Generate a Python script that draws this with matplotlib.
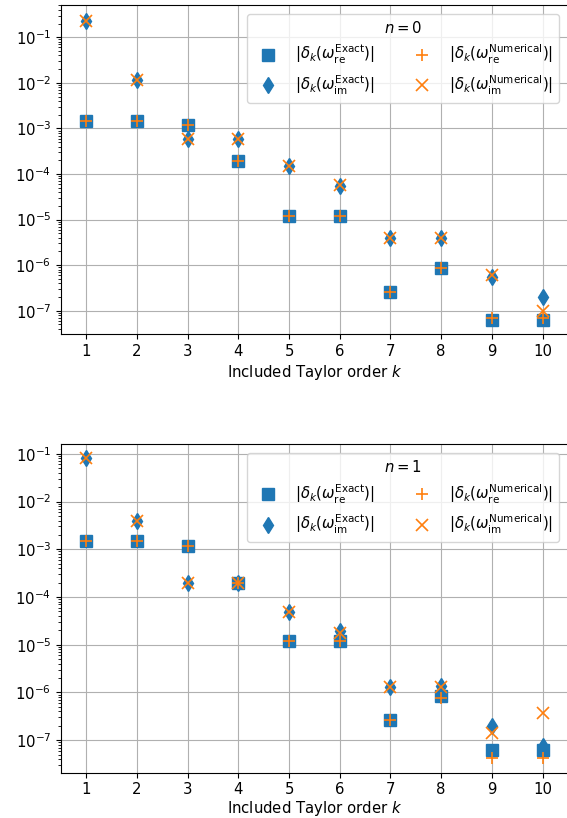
import numpy as np
import matplotlib
matplotlib.use("Agg")
import matplotlib.pyplot as plt

plt.rcParams['font.size'] = 10.7

k = np.arange(1, 11)

# n = 0
re_exact_0 = [1.48e-3, 1.48e-3, 1.17e-3, 1.95e-4, 1.2e-5, 1.2e-5, 2.6e-7, 8.5e-7, 6.4e-8, 6.3e-8]
im_exact_0 = [2.3e-1, 1.15e-2, 6.0e-4, 6.0e-4, 1.5e-4, 5.5e-5, 3.9e-6, 3.9e-6, 5.6e-7, 2.0e-7]
re_num_0 = [1.48e-3, 1.48e-3, 1.17e-3, 1.95e-4, 1.2e-5, 1.2e-5, 2.6e-7, 8.5e-7, 7.0e-8, 7.0e-8]
im_num_0 = [2.3e-1, 1.15e-2, 6.0e-4, 6.0e-4, 1.5e-4, 5.7e-5, 4.0e-6, 4.0e-6, 6.2e-7, 1.0e-7]

# n = 1
re_exact_1 = [1.48e-3, 1.48e-3, 1.17e-3, 1.95e-4, 1.2e-5, 1.2e-5, 2.6e-7, 8.5e-7, 6.2e-8, 6.2e-8]
im_exact_1 = [8.0e-2, 4.0e-3, 2.0e-4, 2.0e-4, 4.9e-5, 1.9e-5, 1.3e-6, 1.35e-6, 2.0e-7, 7.5e-8]
re_num_1 = [1.48e-3, 1.48e-3, 1.17e-3, 1.95e-4, 1.2e-5, 1.2e-5, 2.6e-7, 7.6e-7, 4.2e-8, 4.2e-8]
im_num_1 = [8.0e-2, 4.0e-3, 2.0e-4, 2.0e-4, 4.9e-5, 1.8e-5, 1.3e-6, 1.3e-6, 1.4e-7, 3.8e-7]

data = [(0, re_exact_0, im_exact_0, re_num_0, im_num_0),
        (1, re_exact_1, im_exact_1, re_num_1, im_num_1)]

fig = plt.figure(figsize=(5.67, 8.18), dpi=100)
ax_top = fig.add_axes([0.1076, 0.5917, 0.894, 0.4022])
ax_bot = fig.add_axes([0.1076, 0.0554, 0.894, 0.4015])

for ax, (n, re_ex, im_ex, re_nu, im_nu) in zip([ax_top, ax_bot], data):
    ax.plot(k, re_ex, 's', color='C0', markersize=8,
            label=r'$|\delta_k(\omega_{\rm re}^{\rm Exact})|$')
    ax.plot(k, im_ex, 'd', color='C0', markersize=8,
            label=r'$|\delta_k(\omega_{\rm im}^{\rm Exact})|$')
    ax.plot(k, re_nu, '+', color='C1', markersize=8, markeredgewidth=1.2,
            label=r'$|\delta_k(\omega_{\rm re}^{\rm Numerical})|$')
    ax.plot(k, im_nu, 'x', color='C1', markersize=8, markeredgewidth=1.2,
            label=r'$|\delta_k(\omega_{\rm im}^{\rm Numerical})|$')
    ax.set_yscale('log')
    ax.set_xlim(0.5, 10.5)
    ax.set_xticks(k)
    ax.grid(True, which='major')
    ax.legend(title=f'$n = {n}$', ncol=2, loc='upper right', columnspacing=2.2,
              borderaxespad=0.6)

ax_top.set_xlabel('Included Taylor order $k$', labelpad=3)
ax_bot.set_xlabel('Included Taylor order $k$', labelpad=1.5)
ax_top.set_ylim(10**-7.51, 10**-0.29)
ax_bot.set_ylim(10**-7.68, 10**-0.8)

fig.savefig('out.png', dpi=100)
